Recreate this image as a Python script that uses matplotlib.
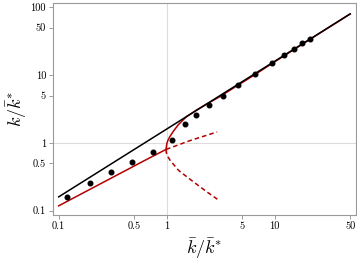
import numpy as np
import matplotlib
matplotlib.use("Agg")
import matplotlib.pyplot as plt

plt.rcParams["font.family"] = "serif"
plt.rcParams["font.serif"] = ["cmr10"]
plt.rcParams["mathtext.fontset"] = "cm"
plt.rcParams["axes.formatter.use_mathtext"] = True

# simulation points
pts_x = [0.119, 0.195, 0.305, 0.477, 0.739, 1.11, 1.49, 1.88, 2.44, 3.31,
         4.57, 6.53, 9.44, 12.2, 15.1, 18.0, 21.1]
pts_y = [0.159, 0.254, 0.377, 0.530, 0.731, 1.10, 1.93, 2.62, 3.61, 5.0,
         7.12, 10.3, 15.2, 19.9, 24.5, 29.3, 34.0]

# black reference line
line_x = [0.1, 50]
line_y = [0.16, 80]

# red curve, stable branches (solid)
low_x = [0.1, 0.3, 0.6, 0.985]
low_y = [0.118, 0.297, 0.532, 0.80]
up_x = [0.985, 1.004, 1.029, 1.07, 1.155, 1.28, 1.53, 1.90, 2.43, 3.12,
        4.14, 6.0, 10, 20, 50]
up_y = [0.80, 0.985, 1.10, 1.24, 1.49, 1.85, 2.45, 3.07, 3.86, 4.83,
        6.43, 9.3, 15.7, 31.7, 79.7]

# red curve, unstable branches (dashed)
dup_x = [0.985, 1.64, 2.93]
dup_y = [0.80, 1.08, 1.45]
ddn_x = [0.985, 0.993, 1.02, 1.07, 1.27, 1.33, 1.76, 2.34, 3.07]
ddn_y = [0.80, 0.713, 0.635, 0.561, 0.403, 0.377, 0.268, 0.191, 0.141]

xticks = [0.1, 0.5, 1, 5, 10, 50]
xtick_labels = ["0.1", "0.5", "1", "5", "10", "50"]
yticks = [0.1, 0.5, 1, 5, 10, 50, 100]
ytick_labels = ["0.1", "0.5", "1", "5", "10", "50", "100"]

red = "#b30000"

fig = plt.figure(figsize=(3.57, 2.66), dpi=100)
ax = fig.add_axes([0.1485, 0.1917, 0.8487, 0.7959])
ax.set_xscale("log")
ax.set_yscale("log")

ax.axvline(1, color="#dcdcdc", lw=0.8, zorder=0)
ax.axhline(1, color="#dcdcdc", lw=0.8, zorder=0)

ax.plot(low_x, low_y, color=red, lw=1.1, zorder=2)
ax.plot(up_x, up_y, color=red, lw=1.1, zorder=2)
ax.plot(dup_x, dup_y, color=red, lw=1.1, ls=(0, (3, 2)), zorder=2)
ax.plot(ddn_x, ddn_y, color=red, lw=1.1, ls=(0, (3, 2)), zorder=2)
ax.plot(line_x, line_y, color="black", lw=1.1, zorder=3)
ax.plot(pts_x, pts_y, "o", color="black", ms=3.3, zorder=4)

ax.set_xlim(0.0886, 56.6)
ax.set_ylim(0.0864, 114.5)
ax.set_xticks(xticks)
ax.set_xticklabels(xtick_labels)
ax.set_yticks(yticks)
ax.set_yticklabels(ytick_labels)
ax.minorticks_off()

for sp in ax.spines.values():
    sp.set_color("#9a9a9a")
    sp.set_linewidth(0.8)
ax.tick_params(axis="both", which="major", length=3, width=0.7,
               color="#9a9a9a", labelsize=7.5, pad=2)

ax.set_xlabel(r"$\bar{k}/\bar{k}^{*}$", fontsize=13, labelpad=3)
ax.set_ylabel(r"$k/\bar{k}^{*}$", fontsize=13, labelpad=1)

fig.savefig("out.png", dpi=100)
